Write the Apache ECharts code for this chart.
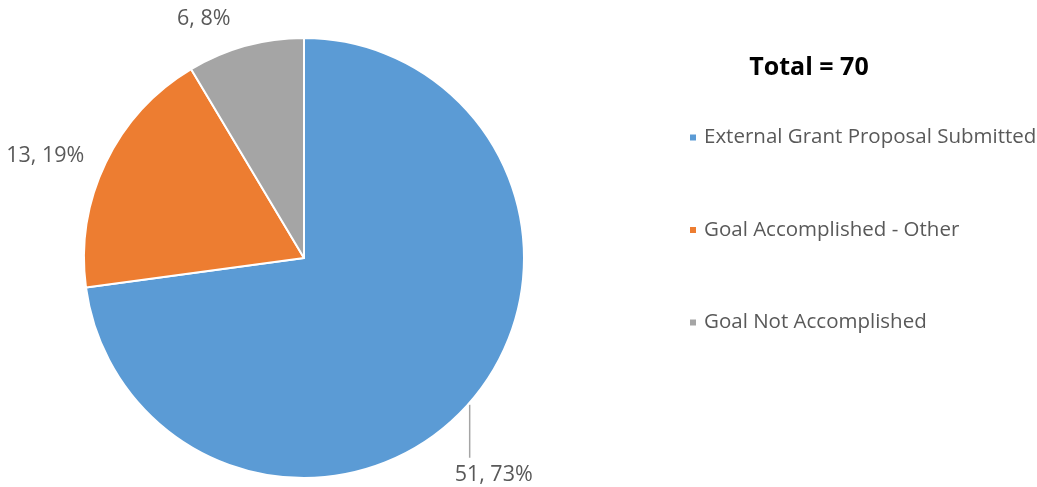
<!DOCTYPE html>
<html>
<head>
<meta charset="utf-8">
<script src="https://cdn.jsdelivr.net/npm/echarts@6/dist/echarts.min.js"></script>
<style>html,body{margin:0;padding:0;background:#fff;}#c{width:1037px;height:487px;}</style>
</head>
<body>
<div id="c"></div>
<script>
const categories = ['External Grant Proposal Submitted', 'Goal Accomplished - Other', 'Goal Not Accomplished'];
const values = [51, 13, 6];
const colors = ['#5B9BD5', '#ED7D31', '#A5A5A5'];
const totalLabel = 'Total = 70';
const FONT = 'Open Sans';

const chart = echarts.init(document.getElementById('c'));
chart.setOption({
  animation: false,
  title: {
    text: totalLabel,
    left: 804, top: 50, textAlign: 'center',
    textStyle: {fontFamily: FONT, fontWeight: 'bold', fontSize: 25, color: '#000'}
  },
  legend: {
    orient: 'vertical', left: 683, top: 122,
    itemWidth: 8, itemHeight: 8, itemGap: 71.5, icon: 'rect',
    textStyle: {fontFamily: FONT, fontSize: 20.5, color: '#595959', padding: [0, 0, 0, 2]},
    data: categories
  },
  series: [{
    type: 'pie',
    center: [304, 258],
    radius: 220,
    startAngle: 90,
    clockwise: true,
    percentPrecision: 0,
    data: categories.map((n, i) => ({
      name: n, value: values[i], itemStyle: {color: colors[i]},
      labelLine: {show: i === 0}
    })),
    itemStyle: {borderColor: '#fff', borderWidth: 2},
    label: {
      show: true, position: 'outside', overflow: 'none',
      fontFamily: FONT, fontSize: 21.5, color: '#595959',
      formatter: p => p.value + ', ' + p.percent + '%'
    },
    labelLine: {length: 15, length2: 10, lineStyle: {color: '#A5A5A5', width: 1.5}},
    labelLayout: function (p) {
      if (p.dataIndex === 0) {
        const s = p.labelLinePoints[0];
        return {
          x: s[0] + 24, y: s[1] + 72, align: 'center', verticalAlign: 'middle',
          labelLinePoints: [[s[0], s[1] + 2], [s[0], s[1] + 30], [s[0], s[1] + 55]]
        };
      }
      if (p.dataIndex === 1) return {dx: 7, dy: 0};
      return {dx: 4, dy: -13};
    },
    emphasis: {disabled: true}
  }]
});
</script>
</body>
</html>
